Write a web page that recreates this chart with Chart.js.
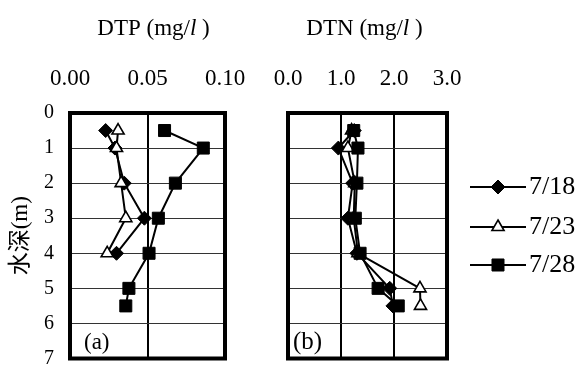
<!DOCTYPE html>
<html>
<head>
<meta charset="utf-8">
<script src="https://cdn.jsdelivr.net/npm/chart.js@4.4.1/dist/chart.umd.min.js"></script>
<style>
  html, body { margin: 0; padding: 0; background: #fff; }
  #wrap { position: relative; width: 583px; height: 368px; overflow: hidden; }
  #wrap canvas { position: absolute; top: 0; }
</style>
</head>
<body>
<div id="wrap">
  <canvas id="chart-dtp" width="250" height="368" style="left:0;width:250px;height:368px"></canvas>
  <canvas id="chart-dtn" width="333" height="368" style="left:250px;width:333px;height:368px"></canvas>
</div>
<script>
// profils verticaux DTP / DTN, trois campagnes
const SERIES = ["7/18", "7/23", "7/28"];

const DEPTH_SHORT = [0.5, 1, 2, 3, 4];
const DEPTH_FULL  = [0.5, 1, 2, 3, 4, 5, 5.5];

const DTP_0718 = [0.023, 0.029, 0.035, 0.048, 0.030];
const DTP_0723 = [0.031, 0.030, 0.033, 0.036, 0.024];
const DTP_0728 = [0.061, 0.086, 0.068, 0.057, 0.051, 0.038, 0.036];

const DTN_0718 = [1.25, 0.95, 1.22, 1.13, 1.30, 1.92, 1.98];
const DTN_0723 = [1.20, 1.13, 1.26, 1.24, 1.32, 2.49, 2.50];
const DTN_0728 = [1.24, 1.32, 1.30, 1.27, 1.36, 1.70, 2.08];

const DEPTH_TICKS = [0, 1, 2, 3, 4, 5, 6, 7];
const DTP_TICKS = [0, 0.05, 0.10];
const DTN_TICKS = [0, 1, 2, 3];

const Y_TITLE = "水深(m)";
const DTP_TITLE = ["DTP (mg/", "l", " )"];
const DTN_TITLE = ["DTN (mg/", "l", " )"];

const SERIF = "'Liberation Serif', 'Noto Sans CJK SC', serif";

// marqueurs façon Excel
const MARKS = {
  "7/18": { shape: "rectRot",  r: 7,   fill: "#000", bw: 1,   order: 2 },
  "7/23": { shape: "triangle", r: 7,   fill: "#fff", bw: 1.6, order: 1 },
  "7/28": { shape: "rect",     r: 8.5, fill: "#000", bw: 1,   order: 0 },
};

function profile(label, depths, values) {
  const m = MARKS[label];
  return {
    label,
    data: depths.map((d, i) => ({ x: values[i], y: d })),
    xAxisID: "x", yAxisID: "y",
    showLine: true,
    borderColor: "#000", borderWidth: 2,
    pointStyle: m.shape, pointRadius: m.r, pointHoverRadius: m.r,
    pointBackgroundColor: m.fill, pointBorderColor: "#000", pointBorderWidth: m.bw,
    order: m.order,
  };
}

// cadre épais autour de la zone de tracé
const framePlugin = {
  id: "frame",
  beforeDatasetsDraw(chart) {
    const { ctx, chartArea: a } = chart;
    ctx.save();
    ctx.lineWidth = 4;
    ctx.strokeStyle = "#000";
    ctx.strokeRect(a.left, a.top, a.right - a.left, a.bottom - a.top);
    ctx.restore();
  }
};

// titre (unité en italique) + lettre du panneau
const captionPlugin = {
  id: "captions",
  afterDraw(chart, args, opts) {
    const { ctx, chartArea: a } = chart;
    ctx.save();
    ctx.fillStyle = "#000";
    ctx.textBaseline = "middle";
    ctx.textAlign = "left";
    const fonts = opts.title.map((t, i) => (i === 1 ? "italic " : "") + "23px " + SERIF);
    const widths = opts.title.map((t, i) => { ctx.font = fonts[i]; return ctx.measureText(t).width; });
    let x = (a.left + a.right) / 2 + opts.titleShift - widths.reduce((s, w) => s + w, 0) / 2;
    opts.title.forEach((t, i) => { ctx.font = fonts[i]; ctx.fillText(t, x, 29); x += widths[i]; });
    ctx.font = opts.panelSize + "px " + SERIF;
    ctx.fillText(opts.panel, a.left + opts.panelDx, a.bottom - 16);
    ctx.restore();
  }
};

// légende à droite : trait + marqueur + date
const sideLegend = {
  id: "sideLegend",
  afterDraw(chart) {
    const { ctx, chartArea: a } = chart;
    const rows = [187, 227, 265];
    chart.data.datasets.forEach((ds, i) => {
      const y = rows[i];
      const x0 = a.right + 23, x1 = a.right + 79, xm = (x0 + x1) / 2;
      ctx.save();
      ctx.strokeStyle = "#000";
      ctx.lineWidth = 2;
      ctx.beginPath(); ctx.moveTo(x0, y); ctx.lineTo(x1, y); ctx.stroke();
      ctx.fillStyle = ds.pointBackgroundColor;
      ctx.strokeStyle = ds.pointBorderColor;
      ctx.lineWidth = ds.pointBorderWidth;
      Chart.helpers.drawPoint(ctx, { pointStyle: ds.pointStyle, radius: ds.pointRadius, rotation: 0, borderWidth: ds.pointBorderWidth }, xm, y);
      ctx.fillStyle = "#000";
      ctx.font = "26px " + SERIF;
      ctx.textBaseline = "middle";
      ctx.textAlign = "left";
      ctx.fillText(ds.label, x1 + 3, y);
      ctx.restore();
    });
  }
};

// les étiquettes débordent du cadre : on ne veut pas qu'elles rognent la zone de tracé
function noPad(s) {
  s.paddingTop = s.paddingBottom = s.paddingLeft = s.paddingRight = 0;
}

function valueAxis(max, ticks, digits) {
  return {
    type: "linear", position: "top", min: 0, max,
    afterBuildTicks: s => { s.ticks = ticks.map(v => ({ value: v })); },
    ticks: {
      color: "#000", font: { family: SERIF, size: 23 }, padding: 20,
      autoSkip: false, maxRotation: 0, callback: v => Number(v).toFixed(digits)
    },
    grid: { color: "#000", lineWidth: 2, drawTicks: false },
    border: { display: false },
    afterFit: s => { s.height = 113; noPad(s); }
  };
}

function depthAxis(showLabels, width) {
  return {
    type: "linear", min: 0, max: 7, reverse: true,
    afterBuildTicks: s => { s.ticks = DEPTH_TICKS.map(v => ({ value: v })); },
    ticks: { display: showLabels, color: "#000", font: { family: SERIF, size: 20 }, padding: 16 },
    grid: { color: "#333", lineWidth: 1, drawTicks: false },
    border: { display: false },
    title: {
      display: showLabels, text: Y_TITLE, color: "#000",
      font: { family: SERIF, size: 23 }, padding: { top: 7, bottom: 0 }
    },
    afterFit: s => { s.width = width; noPad(s); }
  };
}

const common = {
  responsive: false,
  animation: false,
  events: [],
};

new Chart(document.getElementById("chart-dtp"), {
  type: "scatter",
  data: {
    datasets: [
      profile(SERIES[0], DEPTH_SHORT, DTP_0718),
      profile(SERIES[1], DEPTH_SHORT, DTP_0723),
      profile(SERIES[2], DEPTH_FULL, DTP_0728),
    ]
  },
  options: {
    ...common,
    layout: { padding: { top: 0, right: 25, bottom: 9, left: 0 } },
    plugins: {
      legend: { display: false },
      tooltip: { enabled: false },
      captions: { title: DTP_TITLE, titleShift: 6, panel: "(a)", panelDx: 14, panelSize: 23 }
    },
    scales: {
      x: valueAxis(0.1, DTP_TICKS, 2),
      y: depthAxis(true, 70),
    }
  },
  plugins: [framePlugin, captionPlugin]
});

new Chart(document.getElementById("chart-dtn"), {
  type: "scatter",
  data: {
    datasets: [
      profile(SERIES[0], DEPTH_FULL, DTN_0718),
      profile(SERIES[1], DEPTH_FULL, DTN_0723),
      profile(SERIES[2], DEPTH_FULL, DTN_0728),
    ]
  },
  options: {
    ...common,
    layout: { padding: { top: 0, right: 136, bottom: 9, left: 0 } },
    plugins: {
      legend: { display: false },
      tooltip: { enabled: false },
      captions: { title: DTN_TITLE, titleShift: -3, panel: "(b)", panelDx: 5, panelSize: 25 }
    },
    scales: {
      x: valueAxis(3, DTN_TICKS, 1),
      y: depthAxis(false, 38),
    }
  },
  plugins: [framePlugin, captionPlugin, sideLegend]
});
</script>
</body>
</html>
